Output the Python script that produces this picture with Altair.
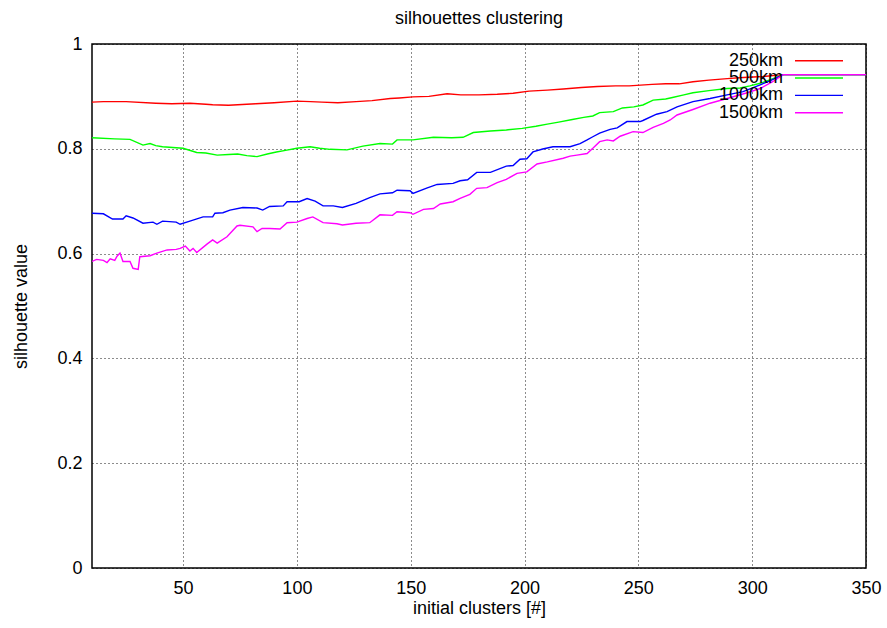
import altair as alt
import pandas as pd

series_names = ["250km", "500km", "1000km", "1500km"]
series_colors = ["#ff0000", "#00ff00", "#0000ff", "#ff00ff"]

x_250 = [10, 15, 25, 38, 45, 53, 60, 63, 70, 74, 82, 90, 100, 106, 111, 118, 126, 133, 141, 145,
         151, 158, 166, 172, 180, 188, 195, 202, 210, 217, 225, 232, 240, 246, 256, 262, 268, 274,
         281, 289, 296, 305, 313.6, 350]
y_250 = [0.889, 0.890, 0.890, 0.887, 0.886, 0.887, 0.885, 0.884, 0.883, 0.884, 0.886, 0.888, 0.891,
         0.890, 0.889, 0.888, 0.890, 0.892, 0.896, 0.897, 0.899, 0.900, 0.905, 0.903, 0.903, 0.904,
         0.906, 0.910, 0.912, 0.914, 0.917, 0.919, 0.920, 0.920, 0.923, 0.924, 0.924, 0.928, 0.931,
         0.934, 0.936, 0.938, 0.9415, 0.9415]

x_500 = [10, 20, 26.7, 32.4, 35.5, 38, 41, 50, 56, 60, 65, 70, 74, 78, 82.5, 87, 91, 95, 100, 105.8,
         110, 114.6, 122, 129, 136.5, 142, 144, 151, 160, 168, 173, 177.5, 185, 192, 199, 205, 210,
         215, 221, 226, 230, 233, 239, 243, 248, 252, 256.5, 262, 265, 270, 274, 281, 289, 294.7,
         299, 303.5, 308, 313.6, 350]
y_500 = [0.821, 0.819, 0.818, 0.807, 0.810, 0.806, 0.804, 0.801, 0.793, 0.792, 0.788, 0.789, 0.790,
         0.787, 0.785, 0.790, 0.794, 0.797, 0.801, 0.804, 0.801, 0.799, 0.798, 0.805, 0.810, 0.809,
         0.817, 0.817, 0.822, 0.821, 0.822, 0.831, 0.834, 0.836, 0.839, 0.843, 0.847, 0.851, 0.856,
         0.860, 0.8626, 0.869, 0.871, 0.878, 0.880, 0.8836, 0.893, 0.895, 0.898, 0.903, 0.907, 0.911,
         0.915, 0.916, 0.920, 0.925, 0.932, 0.9415, 0.9415]

x_1000 = [10, 15, 19, 23.6, 25, 28, 32.4, 36.8, 38.5, 41, 47, 48.7, 53, 58.8, 63, 64, 67.5, 70.6,
          76.3, 82.5, 85, 88, 94, 95.7, 101, 104.5, 108, 111.5, 116, 120, 126, 132, 136.5, 142, 144,
          149.7, 151, 157, 161.6, 168.6, 171.7, 175, 179, 185, 192, 195, 198, 201, 203.7, 208, 212.5,
          220, 224.4, 227.5, 230, 233, 237.6, 240.7, 245, 250.8, 252, 258, 262.6, 267, 274, 281.5,
          289, 296, 303.5, 308, 313.6, 350]
y_1000 = [0.677, 0.676, 0.666, 0.666, 0.672, 0.668, 0.658, 0.660, 0.656, 0.662, 0.660, 0.656, 0.662,
          0.670, 0.670, 0.677, 0.678, 0.683, 0.688, 0.687, 0.683, 0.690, 0.691, 0.699, 0.699, 0.705,
          0.700, 0.691, 0.691, 0.688, 0.696, 0.707, 0.714, 0.716, 0.721, 0.720, 0.715, 0.725, 0.732,
          0.734, 0.739, 0.741, 0.755, 0.755, 0.767, 0.768, 0.780, 0.781, 0.794, 0.7996, 0.804, 0.804,
          0.810, 0.817, 0.823, 0.830, 0.837, 0.840, 0.852, 0.852, 0.854, 0.866, 0.871, 0.880, 0.890,
          0.896, 0.903, 0.909, 0.922, 0.930, 0.9415, 0.9415]

x_1500 = [10, 12, 15, 16.6, 18, 20, 21, 22.3, 23.6, 26.7, 28, 30.3, 31, 35.5, 38.5, 43, 47, 48.7, 51,
          53, 54.4, 56, 60.5, 63, 65, 69.3, 73.7, 75, 80.7, 82.5, 84.7, 88, 92.6, 95.7, 100, 104.5,
          107, 111.5, 117.6, 120, 126, 132, 136.5, 142, 144, 149.7, 151, 155.6, 160, 163, 168.6,
          171.7, 176, 179, 183.5, 188, 192, 196.7, 201, 205.5, 210, 217, 220, 223, 227.5, 230, 233,
          236.3, 239, 242, 247.7, 252, 256.5, 261, 264, 267, 274, 281.5, 289, 297.8, 303.5, 309,
          313.6, 350]
y_1500 = [0.585, 0.589, 0.587, 0.583, 0.590, 0.587, 0.595, 0.601, 0.585, 0.585, 0.572, 0.570, 0.594,
          0.596, 0.601, 0.607, 0.608, 0.610, 0.6145, 0.605, 0.610, 0.602, 0.618, 0.626, 0.620, 0.632,
          0.6527, 0.654, 0.651, 0.642, 0.648, 0.648, 0.647, 0.659, 0.660, 0.667, 0.670, 0.659, 0.657,
          0.6546, 0.658, 0.659, 0.674, 0.673, 0.680, 0.678, 0.675, 0.6845, 0.686, 0.6947, 0.699,
          0.7055, 0.713, 0.7246, 0.726, 0.7353, 0.7418, 0.753, 0.756, 0.771, 0.775, 0.782, 0.786,
          0.788, 0.791, 0.801, 0.8136, 0.817, 0.815, 0.824, 0.8327, 0.831, 0.841, 0.8486, 0.855,
          0.8645, 0.875, 0.887, 0.896, 0.907, 0.915, 0.928, 0.9415, 0.9415]

x_ticks = [50, 100, 150, 200, 250, 300, 350]
y_ticks = [0, 0.2, 0.4, 0.6, 0.8, 1]

FONT = "Liberation Sans"
FS = 18

rows = []
for name, xs, ys in zip(series_names, [x_250, x_500, x_1000, x_1500], [y_250, y_500, y_1000, y_1500]):
    for i, (a, b) in enumerate(zip(xs, ys)):
        rows.append({"series": name, "x": a, "y": b, "i": i})
df = pd.DataFrame(rows)

leg = pd.DataFrame({"series": series_names, "k": list(range(len(series_names)))})

color_scale = alt.Scale(domain=series_names, range=series_colors)

lines = alt.Chart(df).mark_line(strokeWidth=1.4, clip=True).encode(
    x=alt.X("x:Q", scale=alt.Scale(domain=[10, 350], nice=False, zero=False),
            axis=alt.Axis(values=x_ticks, title="initial clusters [#]", grid=True,
                          gridDash=[1, 3], gridColor="#000000", gridOpacity=0.9,
                          domain=False, ticks=False, labelPadding=11,
                          labelFontSize=FS, titleFontSize=FS, titleFontWeight="normal",
                          titlePadding=2, labelFont=FONT, titleFont=FONT, labelColor="#000",
                          titleColor="#000", labelFlush=False)),
    y=alt.Y("y:Q", scale=alt.Scale(domain=[0, 1], nice=False),
            axis=alt.Axis(values=y_ticks, format="~g", title="silhouette value", grid=True,
                          gridDash=[1, 3], gridColor="#000000", gridOpacity=0.9,
                          domain=False, ticks=False, labelPadding=10,
                          labelFontSize=FS, titleFontSize=FS, titleFontWeight="normal",
                          titlePadding=26, labelFont=FONT, titleFont=FONT, labelColor="#000",
                          titleColor="#000")),
    color=alt.Color("series:N", scale=color_scale, legend=None),
    detail="series:N",
    order="i:Q",
)

leg_y = alt.Y("k:Q", scale=alt.Scale(domain=[0, 3], range=[16.7, 68.7]), axis=None)

leg_text = alt.Chart(leg).mark_text(align="right", baseline="middle", fontSize=FS, font=FONT,
                                    color="#000").encode(
    x=alt.value(691), y=leg_y, text="series:N")

leg_rule = alt.Chart(leg).mark_rule(strokeWidth=1.4).encode(
    x=alt.value(703), x2=alt.value(751), y=leg_y,
    color=alt.Color("series:N", scale=color_scale, legend=None))

chart = alt.layer(lines, leg_rule, leg_text).resolve_scale(y="independent").properties(
    width=774, height=524,
    autosize=alt.AutoSizeParams(type="none"),
    padding={"left": 92, "top": 44, "right": 21, "bottom": 60},
    background="white",
    title=alt.TitleParams("silhouettes clustering", fontSize=FS, fontWeight="normal", font=FONT,
                          color="#000", offset=7, anchor="middle"),
).configure_view(stroke="#000000", strokeWidth=1.5)

chart.save("out.html", embed_options={"renderer": "svg", "actions": False})
